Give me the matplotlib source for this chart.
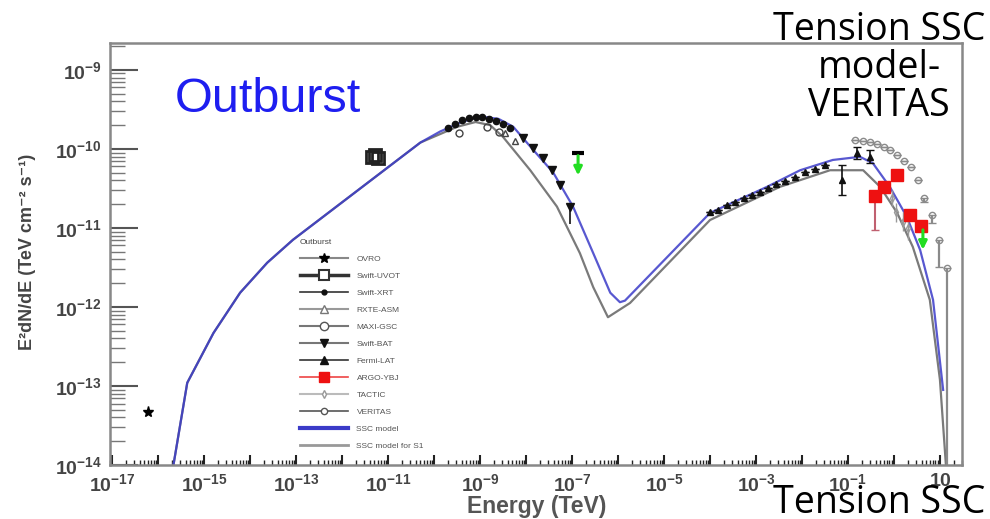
import numpy as np
import matplotlib.pyplot as plt
from matplotlib.lines import Line2D
from matplotlib.ticker import LogLocator, FuncFormatter, NullFormatter

# all values are log10 (energy in TeV, E^2 dN/dE in TeV cm^-2 s^-1)
ssc_logE = [-15.75, -15.67, -15.37, -14.80, -14.22, -13.63, -13.07, -10.30, -9.87, -9.4,
            -9.0, -8.6, -8.28, -7.91, -7.41, -6.98, -6.54, -6.17, -5.96, -5.85,
            -4.0, -2.76, -2.04, -1.33, -0.74, -0.46, -0.09, 0.28, 0.57, 0.85, 1.07]
ssc_logF = [-14.5, -14.0, -12.96, -12.33, -11.82, -11.44, -11.15, -9.92, -9.78, -9.66,
            -9.59, -9.62, -9.72, -9.97, -10.30, -10.73, -11.32, -11.82, -11.94, -11.92,
            -10.81, -10.48, -10.27, -10.14, -10.10, -10.18, -10.48, -10.86, -11.28, -11.91, -13.05]

s1_logE = [-15.75, -15.67, -15.37, -14.80, -14.22, -13.63, -13.07, -10.30, -9.50, -9.1,
           -8.78, -8.50, -7.91, -7.33, -6.83, -6.54, -6.22, -5.74, -4.0, -2.48,
           -1.39, -0.67, -0.30, 0.07, 0.41, 0.78, 1.0, 1.13, 1.16]
s1_logF = [-14.5, -14.0, -12.96, -12.33, -11.82, -11.44, -11.15, -9.92, -9.72, -9.66,
           -9.70, -9.85, -10.27, -10.73, -11.32, -11.75, -12.13, -11.95, -10.90, -10.48,
           -10.27, -10.27, -10.48, -10.81, -11.24, -11.91, -12.92, -14.0, -14.5]

ovro_logE, ovro_logF = [-16.22], [-13.33]
uvot_logE = [-11.35, -11.28, -11.22]
uvot_logF = [-10.10, -10.08, -10.12]
xrt_logE = [-9.7, -9.55, -9.4, -9.25, -9.1, -8.95, -8.8, -8.65, -8.5, -8.35]
xrt_logF = [-9.73, -9.68, -9.64, -9.61, -9.60, -9.60, -9.62, -9.65, -9.69, -9.74]
rxte_logE = [-8.45, -8.25]
rxte_logF = [-9.80, -9.90]
maxi_logE = [-9.45, -8.85, -8.6]
maxi_logF = [-9.80, -9.72, -9.78]
bat_logE = [-8.07, -7.85, -7.63, -7.43, -7.26, -7.04]
bat_logF = [-9.86, -9.99, -10.11, -10.27, -10.46, -10.73]
bat_err = [0.0, 0.0, 0.0, 0.0, 0.0, 0.22]
fermi_logE = [-4.0, -3.83, -3.63, -3.46, -3.26, -3.09, -2.91, -2.74, -2.57, -2.37,
              -2.15, -1.93, -1.72, -1.5, -1.13, -0.80, -0.52]
fermi_logF = [-10.80, -10.77, -10.71, -10.67, -10.62, -10.58, -10.54, -10.49, -10.45, -10.41,
              -10.35, -10.29, -10.25, -10.20, -10.39, -10.05, -10.10]
fermi_err = [0, 0, 0, 0, 0, 0, 0, 0, 0, 0, 0, 0, 0, 0, 0.19, 0.08, 0.08]
argo_logE = [-0.41, -0.22, 0.07, 0.35, 0.59]
argo_logF = [-10.59, -10.48, -10.33, -10.84, -10.97]
argo_err_lo = [0.44, 0.0, 0.0, 0.0, 0.0]
tactic_logE = [-0.05, 0.05, 0.2, 0.3]
tactic_logF = [-10.62, -10.80, -10.92, -11.0]
tactic_err = [0.1, 0.12, 0.12, 0.15]
veritas_logE = [-0.85, -0.67, -0.52, -0.37, -0.22, -0.09, 0.07, 0.22, 0.37, 0.52,
                0.65, 0.83, 0.98, 1.15]
veritas_logF = [-9.89, -9.90, -9.91, -9.94, -9.97, -10.01, -10.08, -10.15, -10.23, -10.39,
                -10.62, -10.84, -11.15, -11.51]
veritas_err_lo = [0, 0, 0, 0, 0, 0, 0, 0, 0, 0, 0.05, 0.1, 0.35, 3.0]
ul_logE = [-6.87, 0.63]
ul_logF = [-10.05, -10.99]

def p(v):
    return 10 ** np.asarray(v, dtype=float)

def yerr_lo(f, lo, hi=None):
    f = np.asarray(f, dtype=float)
    lo = np.asarray(lo, dtype=float)
    hi = lo if hi is None else np.asarray(hi, dtype=float)
    return [10 ** f - 10 ** (f - lo), 10 ** (f + hi) - 10 ** f]

plt.rcParams['font.family'] = ['Liberation Sans', 'DejaVu Sans']
plt.rcParams['mathtext.fontset'] = 'custom'
plt.rcParams['mathtext.bf'] = 'Liberation Sans:bold'

fig = plt.figure(figsize=(9.9, 5.19), dpi=100)
ax = fig.add_axes([110 / 990, 54 / 519, 852 / 990, 422 / 519])
ax.set_xscale('log')
ax.set_yscale('log')

ax.plot(p(s1_logE), p(s1_logF), color='#7a7a7a', lw=1.6)
ax.plot(p(ssc_logE), p(ssc_logF), color='#3b3bc8', lw=1.6, alpha=0.85)

ax.plot(p(ovro_logE), p(ovro_logF), '*', color='k', ms=8)
ax.plot(p(uvot_logE), p(uvot_logF), 's', mfc='none', mec='#222', mew=2, ms=8)
ax.plot(p(xrt_logE), p(xrt_logF), 'o', color='#111', ms=4.5)
ax.plot(p(rxte_logE), p(rxte_logF), '^', mfc='none', mec='#444', ms=5)
ax.plot(p(maxi_logE), p(maxi_logF), 'o', mfc='none', mec='#444', ms=5)
ax.errorbar(p(bat_logE), p(bat_logF), yerr=yerr_lo(bat_logF, bat_err, [0] * 6),
            fmt='v', color='#111', ms=6, elinewidth=1.2)
ax.errorbar(p(fermi_logE), p(fermi_logF), yerr=yerr_lo(fermi_logF, fermi_err),
            fmt='^', color='#111', ms=5, elinewidth=1.2, capsize=3)
ax.errorbar(p(tactic_logE), p(tactic_logF), yerr=yerr_lo(tactic_logF, tactic_err),
            fmt='d', mfc='none', color='#999', ms=4, elinewidth=1)
ax.errorbar(p(veritas_logE), p(veritas_logF),
            yerr=yerr_lo(veritas_logF, veritas_err_lo, [0] * 14),
            fmt='o', mfc='none', color='#8a8a8a', ms=4.5, elinewidth=1.6, capsize=3)
ax.errorbar(p(argo_logE), p(argo_logF), yerr=yerr_lo(argo_logF, argo_err_lo, [0] * 5),
            fmt='s', color='#ee1111', ecolor='#c06070', ms=8, elinewidth=1.5, capsize=3)

for e, f in zip(ul_logE, ul_logF):
    ax.annotate('', xy=(10 ** e, 10 ** (f - 0.32)), xytext=(10 ** e, 10 ** f),
                arrowprops=dict(arrowstyle='-|>', color='#22dd22', lw=2.2, mutation_scale=12))
ax.plot(p(ul_logE[:1]), p(ul_logF[:1]), '_', color='k', ms=9, mew=3)

ax.set_xlim(10 ** -17.05, 10 ** 1.48)
ax.set_ylim(1e-14, 10 ** -8.66)

ax.xaxis.set_major_locator(LogLocator(base=10, numticks=40))
ax.xaxis.set_minor_locator(LogLocator(base=10, subs=np.arange(2, 10), numticks=400))
ax.yaxis.set_major_locator(LogLocator(base=10, numticks=20))
ax.yaxis.set_minor_locator(LogLocator(base=10, subs=np.arange(2, 10), numticks=200))

def xfmt(v, pos):
    e = int(round(np.log10(v)))
    if e % 2 == 0:
        return ''
    if e == 1:
        return r'$\mathbf{10}$'
    return r'$\mathbf{10^{%d}}$' % e

def yfmt(v, pos):
    e = int(round(np.log10(v)))
    return r'$\mathbf{10^{%d}}$' % e

ax.xaxis.set_major_formatter(FuncFormatter(xfmt))
ax.xaxis.set_minor_formatter(NullFormatter())
ax.yaxis.set_major_formatter(FuncFormatter(yfmt))
ax.yaxis.set_minor_formatter(NullFormatter())

ax.tick_params(axis='x', which='major', direction='in', length=7, width=1.5,
               color='#222', labelsize=14, labelcolor='#444', pad=6)
ax.tick_params(axis='x', which='minor', direction='in', length=3.5, width=1, color='#222')
ax.tick_params(axis='y', which='major', direction='in', length=20, width=1.5,
               color='#555', labelsize=14, labelcolor='#444', pad=6)
ax.tick_params(axis='y', which='minor', direction='in', length=11, width=1, color='#777')
for s in ax.spines.values():
    s.set_color('#888')
    s.set_linewidth(1.8)

fig.text(537 / 990, 1 - 507 / 519, 'Energy (TeV)', ha='center', va='center',
         fontsize=16.5, fontweight='bold', color='#555')
fig.text(28 / 990, 1 - 252 / 519, 'E²dN/dE (TeV cm⁻² s⁻¹)', rotation=90, ha='center',
         va='center', fontsize=13, fontweight='bold', color='#444')

fig.text(175 / 990, 1 - 112 / 519, 'Outburst', ha='left', va='baseline',
         fontsize=35, color='#1e1ef0')

handles = [
    Line2D([], [], color='#888', lw=1.5, marker='*', mfc='k', mec='k', ms=7),
    Line2D([], [], color='#333', lw=2.5, marker='s', mfc='w', mec='#333', mew=1.5, ms=7),
    Line2D([], [], color='#333', lw=1.2, marker='o', mfc='#111', mec='#111', ms=3.5),
    Line2D([], [], color='#999', lw=1.5, marker='^', mfc='w', mec='#777', ms=6),
    Line2D([], [], color='#777', lw=1.5, marker='o', mfc='w', mec='#555', ms=6),
    Line2D([], [], color='#777', lw=1.5, marker='v', mfc='#111', mec='#111', ms=6),
    Line2D([], [], color='#333', lw=1.2, marker='^', mfc='#111', mec='#111', ms=6),
    Line2D([], [], color='#ee4444', lw=1.2, marker='s', mfc='#ee1111', mec='#ee1111', ms=7),
    Line2D([], [], color='#bbb', lw=1.5, marker='d', mfc='w', mec='#999', ms=4),
    Line2D([], [], color='#555', lw=1.2, marker='o', mfc='w', mec='#555', ms=4.5),
    Line2D([], [], color='#3b3bc8', lw=3),
    Line2D([], [], color='#999', lw=2),
]
labels = ['OVRO', 'Swift-UVOT', 'Swift-XRT', 'RXTE-ASM', 'MAXI-GSC', 'Swift-BAT',
          'Fermi-LAT', 'ARGO-YBJ', 'TACTIC', 'VERITAS', 'SSC model', 'SSC model for S1']
leg = ax.legend(handles, labels, title='Outburst', loc='upper left',
                bbox_to_anchor=(294 / 990, 1 - 233 / 519), bbox_transform=fig.transFigure,
                frameon=False, fontsize=6, title_fontsize=6, handlelength=5.8,
                handletextpad=1.0, labelspacing=1.1, borderpad=0.2, alignment='left',
                labelcolor='#555')
leg.get_title().set_color('#444')

fig.text(879 / 990, 1 - 11 / 519, 'Tension SSC\nmodel-\nVERITAS', ha='center', va='top',
         fontsize=27, family='Open Sans', color='k', linespacing=1.0)
fig.text(879 / 990, 1 - 513 / 519, 'Tension SSC', ha='center', va='baseline',
         fontsize=27, family='Open Sans', color='k')

fig.savefig('out.png', dpi=100)
